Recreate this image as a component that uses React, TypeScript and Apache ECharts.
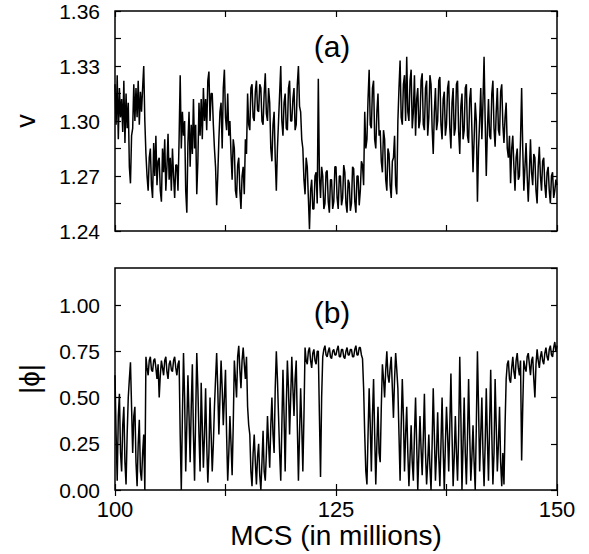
import React, { useEffect, useRef } from "react";
import * as echarts from "echarts";

const mcsStart = 100;
const mcsStep = 0.125;

// panel (a): v, 8 samples per million MCS
const vValues = [
  1.320, 1.298, 1.325, 1.290, 1.318, 1.302, 1.312, 1.294,
  1.322, 1.288, 1.315, 1.296, 1.310, 1.275, 1.266, 1.292,
  1.296, 1.320, 1.300, 1.318, 1.302, 1.322, 1.298, 1.316,
  1.305, 1.318, 1.330, 1.300, 1.282, 1.270, 1.262, 1.280,
  1.285, 1.265, 1.258, 1.288, 1.270, 1.292, 1.265, 1.278,
  1.280, 1.262, 1.256, 1.285, 1.272, 1.290, 1.262, 1.275,
  1.293, 1.268, 1.280, 1.262, 1.285, 1.270, 1.258, 1.276,
  1.276, 1.262, 1.290, 1.325, 1.285, 1.305, 1.292, 1.300,
  1.262, 1.250, 1.288, 1.305, 1.275, 1.298, 1.282, 1.312,
  1.285, 1.298, 1.260, 1.278, 1.310, 1.292, 1.312, 1.290,
  1.318, 1.300, 1.312, 1.295, 1.322, 1.327, 1.300, 1.315,
  1.315, 1.298, 1.285, 1.275, 1.254, 1.270, 1.290, 1.305,
  1.310, 1.285, 1.318, 1.328, 1.302, 1.295, 1.315, 1.292,
  1.300, 1.282, 1.268, 1.290, 1.285, 1.262, 1.258, 1.276,
  1.280, 1.262, 1.252, 1.270, 1.275, 1.260, 1.290, 1.282,
  1.315, 1.298, 1.295, 1.318, 1.320, 1.302, 1.300, 1.316,
  1.322, 1.306, 1.305, 1.320, 1.318, 1.300, 1.298, 1.315,
  1.326, 1.304, 1.300, 1.318, 1.310, 1.285, 1.278, 1.298,
  1.305, 1.280, 1.262, 1.285, 1.300, 1.315, 1.330, 1.300,
  1.292, 1.310, 1.315, 1.296, 1.295, 1.318, 1.322, 1.300,
  1.300, 1.312, 1.318, 1.295, 1.298, 1.320, 1.330, 1.308,
  1.305, 1.290, 1.285, 1.268, 1.260, 1.280, 1.275, 1.258,
  1.241, 1.262, 1.268, 1.252, 1.252, 1.270, 1.272, 1.255,
  1.323, 1.270, 1.258, 1.275, 1.270, 1.252, 1.255, 1.272,
  1.273, 1.256, 1.250, 1.268, 1.268, 1.252, 1.256, 1.275,
  1.275, 1.258, 1.252, 1.270, 1.270, 1.254, 1.258, 1.276,
  1.272, 1.255, 1.250, 1.268, 1.266, 1.251, 1.255, 1.275,
  1.274, 1.256, 1.250, 1.270, 1.270, 1.254, 1.262, 1.278,
  1.276, 1.265, 1.305, 1.285, 1.290, 1.312, 1.328, 1.298,
  1.296, 1.318, 1.322, 1.290, 1.285, 1.305, 1.315, 1.292,
  1.295, 1.278, 1.272, 1.295, 1.290, 1.268, 1.262, 1.285,
  1.282, 1.265, 1.258, 1.278, 1.280, 1.292, 1.265, 1.260,
  1.300, 1.318, 1.333, 1.302, 1.298, 1.320, 1.325, 1.300,
  1.335, 1.305, 1.300, 1.322, 1.328, 1.296, 1.305, 1.325,
  1.292, 1.312, 1.318, 1.296, 1.300, 1.322, 1.326, 1.298,
  1.295, 1.318, 1.322, 1.292, 1.302, 1.325, 1.320, 1.296,
  1.282, 1.305, 1.318, 1.295, 1.300, 1.322, 1.324, 1.298,
  1.290, 1.312, 1.316, 1.292, 1.298, 1.318, 1.322, 1.296,
  1.285, 1.310, 1.318, 1.292, 1.296, 1.320, 1.322, 1.294,
  1.282, 1.308, 1.315, 1.290, 1.295, 1.318, 1.320, 1.292,
  1.288, 1.312, 1.318, 1.295, 1.272, 1.290, 1.310, 1.300,
  1.256, 1.285, 1.300, 1.318, 1.290, 1.310, 1.335, 1.300,
  1.270, 1.295, 1.312, 1.292, 1.290, 1.315, 1.322, 1.296,
  1.286, 1.305, 1.318, 1.295, 1.292, 1.316, 1.320, 1.298,
  1.288, 1.302, 1.310, 1.285, 1.280, 1.292, 1.266, 1.285,
  1.292, 1.275, 1.262, 1.280, 1.285, 1.268, 1.270, 1.290,
  1.318, 1.285, 1.262, 1.275, 1.288, 1.270, 1.256, 1.272,
  1.290, 1.272, 1.265, 1.282, 1.280, 1.262, 1.255, 1.275,
  1.286, 1.270, 1.262, 1.278, 1.280, 1.265, 1.258, 1.272,
  1.275, 1.262, 1.255, 1.270, 1.272, 1.258, 1.262, 1.268,
  1.265,
];

// panel (b): |phi|, 8 samples per million MCS
const phiValues = [
  0.62, 0.30, 0.05, 0.40, 0.52, 0.20, 0.10, 0.35,
  0.45, 0.15, 0.03, 0.30, 0.50, 0.60, 0.69, 0.45,
  0.20, 0.40, 0.45, 0.15, 0.02, 0.25, 0.38, 0.10,
  0.05, 0.20, 0.30, 0.00, 0.72, 0.66, 0.62, 0.70,
  0.72, 0.65, 0.64, 0.70, 0.71, 0.66, 0.60, 0.68,
  0.50, 0.62, 0.70, 0.66, 0.62, 0.70, 0.72, 0.64,
  0.60, 0.68, 0.70, 0.65, 0.64, 0.70, 0.72, 0.66,
  0.62, 0.68, 0.70, 0.30, 0.00, 0.40, 0.74, 0.50,
  0.10, 0.35, 0.62, 0.40, 0.15, 0.45, 0.68, 0.30,
  0.05, 0.40, 0.74, 0.55, 0.30, 0.10, 0.58, 0.35,
  0.12, 0.30, 0.55, 0.25, 0.04, 0.20, 0.50, 0.30,
  0.10, 0.25, 0.45, 0.60, 0.74, 0.55, 0.30, 0.50,
  0.70, 0.55, 0.35, 0.50, 0.65, 0.30, 0.05, 0.20,
  0.40, 0.25, 0.08, 0.35, 0.70, 0.60, 0.50, 0.72,
  0.78, 0.65, 0.55, 0.70, 0.77, 0.68, 0.60, 0.72,
  0.45, 0.35, 0.30, 0.10, 0.02, 0.20, 0.30, 0.15,
  0.03, 0.18, 0.25, 0.08, 0.00, 0.15, 0.32, 0.10,
  0.05, 0.20, 0.40, 0.25, 0.12, 0.35, 0.50, 0.30,
  0.20, 0.55, 0.75, 0.60, 0.40, 0.20, 0.05, 0.35,
  0.65, 0.40, 0.10, 0.45, 0.70, 0.55, 0.30, 0.50,
  0.72, 0.55, 0.40, 0.60, 0.70, 0.35, 0.05, 0.30,
  0.55, 0.35, 0.10, 0.40, 0.77, 0.70, 0.68, 0.75,
  0.77, 0.70, 0.66, 0.74, 0.76, 0.70, 0.68, 0.75,
  0.75, 0.40, 0.07, 0.50, 0.72, 0.76, 0.78, 0.73,
  0.72, 0.75, 0.77, 0.72, 0.71, 0.75, 0.76, 0.73,
  0.73, 0.76, 0.78, 0.72, 0.72, 0.76, 0.76, 0.72,
  0.71, 0.75, 0.77, 0.73, 0.73, 0.76, 0.76, 0.72,
  0.72, 0.76, 0.78, 0.73, 0.73, 0.77, 0.77, 0.73,
  0.71, 0.55, 0.30, 0.10, 0.03, 0.30, 0.55, 0.35,
  0.10, 0.40, 0.60, 0.30, 0.03, 0.25, 0.45, 0.20,
  0.15, 0.45, 0.68, 0.60, 0.50, 0.65, 0.75, 0.62,
  0.58, 0.66, 0.72, 0.55, 0.39, 0.60, 0.74, 0.65,
  0.55, 0.30, 0.05, 0.35, 0.60, 0.40, 0.10, 0.30,
  0.45, 0.20, 0.02, 0.18, 0.35, 0.15, 0.05, 0.30,
  0.50, 0.25, 0.00, 0.20, 0.40, 0.22, 0.08, 0.28,
  0.52, 0.20, 0.03, 0.15, 0.30, 0.12, 0.00, 0.25,
  0.55, 0.30, 0.05, 0.20, 0.42, 0.18, 0.02, 0.25,
  0.50, 0.22, 0.00, 0.25, 0.45, 0.30, 0.10, 0.35,
  0.63, 0.30, 0.02, 0.18, 0.40, 0.20, 0.05, 0.30,
  0.72, 0.40, 0.00, 0.25, 0.50, 0.20, 0.03, 0.28,
  0.60, 0.30, 0.05, 0.18, 0.35, 0.15, 0.00, 0.35,
  0.75, 0.45, 0.10, 0.30, 0.50, 0.20, 0.02, 0.25,
  0.55, 0.28, 0.05, 0.35, 0.65, 0.30, 0.03, 0.20,
  0.60, 0.35, 0.10, 0.25, 0.45, 0.15, 0.02, 0.20,
  0.03, 0.35, 0.60, 0.68, 0.70, 0.60, 0.58, 0.66,
  0.72, 0.64, 0.60, 0.70, 0.74, 0.66, 0.62, 0.70,
  0.16, 0.45, 0.70, 0.66, 0.64, 0.72, 0.74, 0.68,
  0.62, 0.70, 0.72, 0.60, 0.50, 0.68, 0.76, 0.70,
  0.66, 0.72, 0.75, 0.70, 0.68, 0.74, 0.77, 0.72,
  0.70, 0.76, 0.78, 0.73, 0.72, 0.77, 0.80, 0.75,
  0.78,
];

const xTickLabels = ["100", "125", "150"];
const panelLabels = ["(a)", "(b)"];

const FONT = "Liberation Sans, Arial, Helvetica, sans-serif";

export default function App() {
  const ref = useRef<HTMLDivElement>(null);

  useEffect(() => {
    document.body.style.margin = "0";
    const chart = echarts.init(ref.current!, null, { renderer: "svg" });
    const mcs = vValues.map((_, i) => mcsStart + i * mcsStep);

    const tick = { show: true, inside: true, length: 6, lineStyle: { color: "#000", width: 1.2 } };
    const minor = { show: true, splitNumber: 2, length: 6, lineStyle: { color: "#000", width: 1.2 } };
    const baseX = {
      type: "value" as const,
      min: 100,
      max: 150,
      interval: 25,
      axisLine: { show: false },
      splitLine: { show: false },
      axisTick: tick,
      minorTick: minor,
    };
    const hideLabel = { show: false };

    chart.setOption({
      animation: false,
      backgroundColor: "#fff",
      grid: [
        { left: 115, top: 11, width: 442, height: 220, show: true, borderColor: "#000", borderWidth: 1.5, containLabel: false },
        { left: 115, top: 268, width: 442, height: 222, show: true, borderColor: "#000", borderWidth: 1.5, containLabel: false },
      ],
      xAxis: [
        { ...baseX, gridIndex: 0, position: "bottom", axisLabel: hideLabel },
        { ...baseX, gridIndex: 0, position: "top", axisLabel: hideLabel },
        {
          ...baseX,
          gridIndex: 1,
          position: "bottom",
          axisLabel: {
            show: true,
            color: "#000",
            fontSize: 22,
            fontFamily: FONT,
            margin: 8,
            formatter: (v: number) => {
              const idx = Math.round((v - 100) / 25);
              return xTickLabels[idx] ?? "";
            },
          },
          name: "MCS (in millions)",
          nameLocation: "middle",
          nameGap: 31,
          nameTextStyle: { color: "#000", fontSize: 28, fontFamily: FONT },
        },
        { ...baseX, gridIndex: 1, position: "top", axisLabel: hideLabel },
      ],
      yAxis: [
        {
          type: "value",
          gridIndex: 0,
          position: "left",
          min: 1.24,
          max: 1.36,
          interval: 0.03,
          axisLine: { show: false },
          splitLine: { show: false },
          axisTick: tick,
          minorTick: minor,
          axisLabel: {
            color: "#000",
            fontSize: 21,
            fontFamily: FONT,
            margin: 15,
            formatter: (v: number) => v.toFixed(2),
          },
          name: "v",
          nameLocation: "middle",
          nameRotate: 90,
          nameGap: 76,
          nameTextStyle: { color: "#000", fontSize: 27, fontFamily: FONT },
        },
        {
          type: "value",
          gridIndex: 0,
          position: "right",
          min: 1.24,
          max: 1.36,
          interval: 0.03,
          axisLine: { show: false },
          splitLine: { show: false },
          axisTick: tick,
          minorTick: minor,
          axisLabel: hideLabel,
        },
        {
          type: "value",
          gridIndex: 1,
          position: "left",
          min: 0,
          max: 1.2,
          interval: 0.25,
          axisLine: { show: false },
          splitLine: { show: false },
          axisTick: tick,
          axisLabel: {
            color: "#000",
            fontSize: 21,
            fontFamily: FONT,
            margin: 15,
            showMaxLabel: false,
            formatter: (v: number) => (v > 1.01 ? "" : v.toFixed(2)),
          },
          name: "|ϕ|",
          nameLocation: "middle",
          nameRotate: 90,
          nameGap: 72,
          nameTextStyle: { color: "#000", fontSize: 28, fontFamily: FONT },
        },
        {
          type: "value",
          gridIndex: 1,
          position: "right",
          min: 0,
          max: 1.2,
          interval: 0.25,
          axisLine: { show: false },
          splitLine: { show: false },
          axisTick: tick,
          axisLabel: hideLabel,
        },
      ],
      graphic: [
        {
          type: "text",
          x: 332,
          y: 46,
          style: { text: panelLabels[0], fill: "#000", font: `30px ${FONT}`, textAlign: "center", textVerticalAlign: "middle" },
        },
        {
          type: "text",
          x: 332,
          y: 312,
          style: { text: panelLabels[1], fill: "#000", font: `30px ${FONT}`, textAlign: "center", textVerticalAlign: "middle" },
        },
      ],
      series: [
        {
          type: "line",
          xAxisIndex: 0,
          yAxisIndex: 0,
          showSymbol: false,
          lineStyle: { color: "#000", width: 1.5 },
          data: mcs.map((x, i) => [x, vValues[i]]),
        },
        {
          type: "line",
          xAxisIndex: 2,
          yAxisIndex: 2,
          showSymbol: false,
          lineStyle: { color: "#000", width: 1.5 },
          data: mcs.map((x, i) => [x, phiValues[i]]),
        },
      ],
    });

    return () => chart.dispose();
  }, []);

  return <div ref={ref} style={{ position: "fixed", left: 0, top: 0, width: 589, height: 554 }} />;
}
